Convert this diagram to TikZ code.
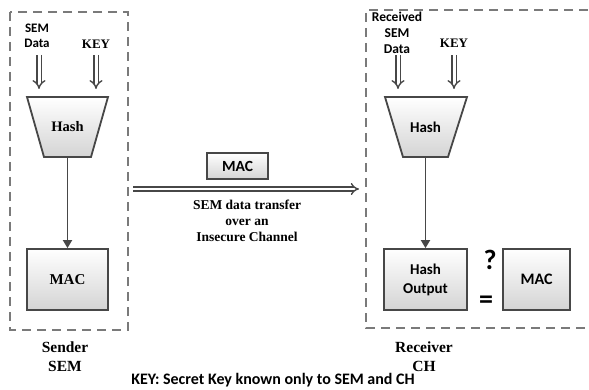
\documentclass[tikz,border=0pt]{standalone}
\usepackage{fontspec}
\setmainfont{Liberation Serif}
\newfontfamily\calfont{Carlito}
\usetikzlibrary{arrows.meta}
\definecolor{edge}{HTML}{474747}
\definecolor{dashc}{HTML}{7A7A7A}
\definecolor{shadebot}{HTML}{D4D4D4}
\tikzset{
  gbox/.style={draw=edge, line width=1.8pt, top color=white, bottom color=shadebot, inner sep=0pt},
  dashbox/.style={draw=dashc, line width=2pt, dash pattern=on 9pt off 6pt},
  hollow/.style={draw=edge, double=white, line width=1.4pt, double distance=3pt, -{Implies[length=5pt,width=10pt]}},
  conn/.style={draw=edge, line width=1.8pt, -{Triangle[length=8pt,width=9pt]}},
  sertxt/.style={font=\bfseries\fontsize{13}{16}\selectfont, align=center, inner sep=0pt, text=black},
  caltxt/.style={font=\calfont\bfseries\fontsize{13}{16}\selectfont, align=center, inner sep=0pt, text=black}
}
\begin{document}
\begin{tikzpicture}[x=1pt,y=-1pt]
\useasboundingbox (0,0) rectangle (589,390);
% left dashed box
\draw[dashbox] (10,12) rectangle (128,330);
% right dashed box (open at right, clipped)
\draw[dashbox] (588,10) -- (366,10) -- (366,328) -- (588,328);

% left side
\node[caltxt, font=\calfont\bfseries\fontsize{13}{15.5}\selectfont] (semdata) at (37,36) {SEM\\Data};
\node[sertxt] (keyl) at (96,44) {KEY};
\coordinate (a1s) at (39,55); \coordinate (a1e) at (39,89);
\coordinate (a2s) at (96,55); \coordinate (a2e) at (96,89);
\draw[hollow] (a1s) -- (a1e);
\draw[hollow] (a2s) -- (a2e);
\path[gbox] (27,97) -- (108,97) -- (91,157) -- (44,157) -- cycle;
\node[sertxt, font=\bfseries\fontsize{14.5}{16}\selectfont] (hashl) at (67.5,127) {Hash};
\coordinate (hashlb) at (67.5,157);
\node[gbox, minimum width=81pt, minimum height=61pt, font=\bfseries\fontsize{15}{18}\selectfont] (macl) at (67.5,279.5) {MAC};
\draw[conn] (hashlb) -- (macl.north);
\node[sertxt, font=\bfseries\fontsize{15.5}{19}\selectfont] (sender) at (65,357) {Sender\\SEM};

% middle
\node[gbox, minimum width=61pt, minimum height=26pt, font=\calfont\bfseries\fontsize{15.5}{18}\selectfont] (macm) at (237.5,166) {MAC};
\coordinate (chs) at (133,189); \coordinate (che) at (359,189);
\draw[hollow, double distance=2.6pt] (chs) -- (che);
\node[sertxt, font=\bfseries\fontsize{13.5}{16}\selectfont] (transfer) at (247,221) {SEM data transfer\\over an\\Insecure Channel};

% right side
\node[caltxt, font=\calfont\bfseries\fontsize{13.5}{16}\selectfont] (recv) at (397,33) {Received\\SEM\\Data};
\node[sertxt] (keyr) at (454,43) {KEY};
\coordinate (b1s) at (398,55); \coordinate (b1e) at (398,89);
\coordinate (b2s) at (454,55); \coordinate (b2e) at (454,89);
\draw[hollow] (b1s) -- (b1e);
\draw[hollow] (b2s) -- (b2e);
\path[gbox] (385,97) -- (467,97) -- (448,157) -- (403,157) -- cycle;
\node[caltxt, font=\calfont\bfseries\fontsize{15}{16}\selectfont] (hashr) at (425.5,127) {Hash};
\coordinate (hashrb) at (425.5,157);
\node[gbox, minimum width=83pt, minimum height=61pt, align=center, font=\calfont\bfseries\fontsize{15}{19}\selectfont] (hout) at (425.5,279.5) {Hash\\Output};
\draw[conn] (hashrb) -- (hout.north);
\node[caltxt, font=\calfont\bfseries\fontsize{28}{28}\selectfont] (qm) at (490,260) {?};
\node[caltxt, font=\calfont\bfseries\fontsize{28}{28}\selectfont] (eq) at (486,302) {=};
\node[gbox, minimum width=67pt, minimum height=61pt, font=\calfont\bfseries\fontsize{16}{18}\selectfont] (macr) at (536.5,279.5) {MAC};
\node[sertxt, font=\bfseries\fontsize{15.5}{19}\selectfont] (receiver) at (424,357) {Receiver\\CH};

% bottom key note
\node[caltxt, font=\calfont\bfseries\fontsize{16}{18}\selectfont] (keynote) at (273,380) {KEY: Secret Key known only to SEM and CH};
\end{tikzpicture}
\end{document}
